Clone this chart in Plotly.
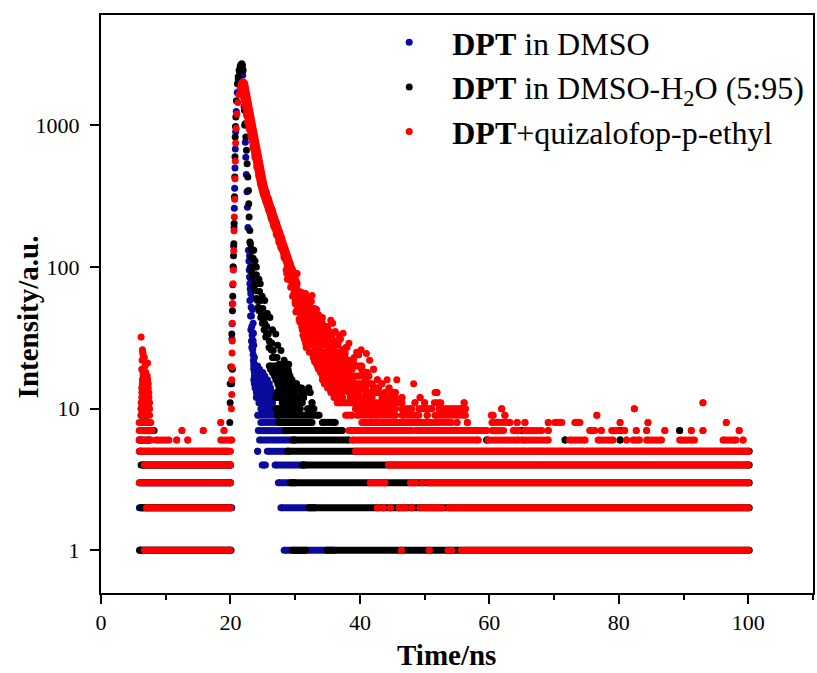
import math
import plotly.graph_objects as go

# ---------------- data ----------------
# Peak / decay points (time in ns, intensity in counts)
blue_t = [20.2, 20.22, 20.25, 20.3, 20.35, 20.42, 20.5, 20.55, 20.6, 20.65, 20.7, 20.75, 20.8, 20.9, 21.05, 21.2, 21.4, 21.6, 21.72,
          21.8, 21.9, 22.0, 22.1, 22.2, 22.3, 22.37, 22.45, 22.55, 22.62, 22.7, 22.78, 22.85, 22.9, 22.95, 23.0, 23.05, 23.14,
          23.2, 23.25, 23.3, 23.35, 23.4, 23.45, 23.5, 23.55, 23.6,
          22.95, 23.05, 23.2, 23.3, 23.4, 23.5, 23.55, 23.6, 23.0, 23.1, 23.15, 23.25, 23.3, 23.5, 23.7]
blue_i = [15, 31, 39.7, 55, 75, 100, 140, 190, 260, 360, 500, 680, 900, 1250, 1700, 2100, 2400, 2580, 2620,
          2550, 2250, 1800, 1350, 1000, 760, 594, 450, 340, 264, 190, 131, 110, 95, 85, 76, 70, 65,
          52, 45, 38, 33, 29, 26, 24, 22, 21,
          120, 100, 80, 60, 50, 40, 34, 28, 58, 45, 36, 30, 27, 30, 23]

black_t = [19.9, 19.95, 19.96, 20.06, 20.21, 20.31, 20.36, 20.42, 20.47, 20.52, 20.57, 20.62, 20.67, 20.7, 20.73, 20.78, 20.83,
           20.93, 21.08, 21.2, 21.34, 21.5, 21.62, 21.75,
           21.85, 21.96, 22.06, 22.11, 22.16, 22.27, 22.37, 22.47, 22.57, 22.68, 22.78, 22.83, 22.88, 22.99, 23.09, 23.19,
           23.29, 23.5, 23.7, 23.91, 24.17, 24.42, 24.68, 24.94, 25.19, 25.45, 25.96, 26.48, 27.25, 28.02,
           23.6, 24.0, 24.6, 25.3, 26.1, 27.0, 27.8, 29.0,
           23.4, 23.65, 24.05, 24.65, 25.2, 25.85, 26.6, 27.5,
           23.5, 24.0, 24.5, 25.0, 25.6, 26.4, 27.2, 23.2, 23.0, 23.8, 24.4, 24.9, 25.7, 26.5, 27.3, 28.3,
           23.3, 23.6, 24.0, 24.3, 24.8, 25.3, 25.6, 26.0, 26.3, 26.8,
           6.5, 6.8, 7.0, 6.3, 20.3]
black_i = [8, 11, 15, 19.7, 33.7, 49, 62, 100, 120, 146, 203, 313, 431, 600, 826, 980, 1143,
           1490, 1965, 2200, 2440, 2600, 2680, 2720,
           2650, 2440, 1965, 1583, 1275, 1026, 826, 665, 536, 431, 347, 279, 225, 181, 146, 117,
           100, 85, 76, 68, 58, 49, 44, 40, 36, 32, 27, 23, 19.7, 16.7,
           131, 100, 76, 58, 44, 33.7, 25.7, 20.6,
           131, 100, 76, 58, 44, 33.7, 25.7, 20.6,
           115, 88, 67, 51, 38, 29, 23, 135, 150, 110, 82, 62, 47, 36, 28, 22,
           92, 72, 60, 52, 46, 40, 34, 30, 26, 23,
           16, 13, 12, 11, 19]

# red: rising edge, pre-pulse spike and the scattered tail cloud
red_t = [20.15, 20.2, 20.2, 20.22, 20.25, 20.28, 20.3, 20.35, 20.4, 20.45, 20.5, 20.55, 20.6, 20.65, 20.7, 20.75, 20.8, 20.9,
         21.0, 21.15, 21.3, 21.5, 21.7,
         6.2, 6.4, 6.45, 6.5, 7.2, 6.3, 6.9, 7.0, 6.6, 7.2, 6.4, 7.3, 6.5, 7.0, 6.8, 6.35, 7.15, 6.7,
         26.0, 26.8, 27.6, 28.4, 29.2, 24.5, 25.5, 23.2, 23.9, 24.9, 25.9, 26.5, 27.1, 27.9,
         28.6, 29.1, 29.6,
         28.7, 29.2, 29.8, 30.3,
         28.8, 29.3, 29.8, 30.3, 29.0, 29.6,
         29.3, 29.9, 30.5, 31.0, 30.2,
         29.8, 30.4, 31.0, 31.6,
         29.6, 30.2, 30.8, 31.4, 32.0, 32.6, 31.1,
         30.0, 30.5, 31.0, 31.5, 32.0, 32.5,
         30.0, 30.6, 31.2, 31.8, 32.4, 33.0,
         30.3, 30.8, 31.3, 31.8, 32.3, 32.8, 33.3,
         30.1, 30.8, 31.5, 32.2, 32.9, 33.6, 34.2,
         30.6, 31.1, 31.6, 32.1, 32.6, 33.1, 33.6, 34.1,
         30.7, 31.4, 32.1, 32.8, 33.5, 34.2, 34.9, 35.5,
         31.0, 31.5, 32.0, 32.5, 33.0, 33.5, 34.0, 34.5, 35.0,
         31.1, 31.8, 32.5, 33.2, 33.9, 34.6, 35.3, 36.2,
         31.2, 31.7, 32.2, 32.7, 33.2, 33.7, 34.2, 34.7, 35.2, 35.7,
         31.4, 32.1, 32.8, 33.5, 34.2, 34.9, 35.6, 36.3, 37.0,
         31.6, 32.1, 32.6, 33.1, 33.6, 34.1, 34.6, 35.1, 35.6, 36.1, 36.6,
         31.7, 32.4, 33.1, 33.8, 34.5, 35.2, 35.9, 36.6, 37.3, 38.0, 38.3,
         32.2, 32.7, 33.2, 33.7, 34.2, 34.7, 35.2, 35.7, 36.2, 36.7, 37.2, 37.7,
         32.8, 33.5, 34.2, 34.9, 35.6, 36.3, 37.0, 37.7, 38.4, 39.1, 39.8,
         33.0, 33.6, 34.2, 34.8, 35.4, 36.0, 36.6, 37.2, 37.8, 38.4, 39.0,
         40.2, 41.5, 36.7, 39.5, 37.4, 35.8, 36.8, 33.5, 41.0, 40.4, 37.8, 39.8, 44.2, 45.7, 48.3, 51.6]
red_i = [10, 12.6, 16, 19.7, 24.7, 30, 40, 55, 76, 95, 130, 180, 225, 300, 420, 560, 750, 950,
         1200, 1450, 1650, 1820, 1930,
         32, 26, 25, 24, 21, 19, 18, 17, 16, 15, 14.5, 14, 13.5, 13, 20, 22, 17, 23,
         270, 220, 175, 135, 105, 480, 340, 960, 700, 400, 300, 250, 205, 160,
         95, 95, 95,
         90, 90, 90, 90,
         82, 80, 78, 76, 88, 84,
         72, 70, 68, 66, 74,
         65, 65, 65, 65,
         62, 61, 60, 59, 61, 63, 64,
         57, 57, 57, 57, 57, 57,
         55, 54, 53, 55, 52, 51,
         50, 50, 50, 50, 50, 50, 50,
         48, 47, 46, 47, 45, 46, 44,
         43, 43, 43, 43, 43, 43, 43, 43,
         41, 40, 40, 39, 41, 40, 38, 42,
         38, 38, 38, 38, 38, 38, 38, 38, 38,
         36, 35, 36, 35, 34, 36, 35, 35,
         33, 33, 33, 33, 33, 33, 33, 33, 33, 33,
         31, 32, 30, 31, 30, 31, 32, 30, 31,
         29, 29, 29, 29, 29, 29, 29, 29, 29, 29, 29,
         27, 28, 26, 27, 28, 26, 27, 28, 26, 27, 29,
         25, 25, 25, 25, 25, 25, 25, 25, 25, 25, 25, 25,
         23, 24, 22, 23, 24, 22, 23, 24, 22, 23, 24,
         21.5, 21.5, 21.5, 21.5, 21.5, 21.5, 21.5, 21.5, 21.5, 21.5, 21.5,
         26, 22, 30, 25, 34, 40, 33, 45, 24.5, 18.5, 27, 24, 16, 16, 15, 13]

# red main decay (dense thick trail just after the peak)
red_decay_t = [21.95, 22.1, 22.3, 22.5, 22.7, 22.9, 23.1, 23.4, 23.7, 24.0, 24.3, 24.6, 24.9, 25.3, 25.7, 26.1, 26.5,
               26.9, 27.3, 27.7, 28.0, 28.5, 29.0, 29.5, 30.0]
red_decay_i = [1970, 1800, 1550, 1350, 1180, 1050, 950, 830, 700, 600, 510, 440, 385, 330, 290, 255, 222,
               195, 170, 150, 138, 117, 100, 87, 77]

# Low-count background: runs of channels sitting on one count level (level, start ns, end ns)
blue_band_level = [1, 2, 3, 4, 5, 6,
                   1, 2, 3, 4, 4, 5, 5, 6, 7, 8, 9, 10, 11, 12, 13, 14, 15, 16, 17, 18, 19, 20]
blue_band_start = [6.0, 5.93, 6.5, 6.5, 6.0, 5.93,
                   28.3, 27.8, 27.4, 24.9, 26.9, 24.2, 25.7, 24.5, 24.3, 24.7, 24.2, 24.7, 24.4, 24.0, 24.0, 23.8, 23.7,
                   23.6, 23.7, 23.7, 23.6, 23.6]
blue_band_end = [20.1, 20.2, 20.0, 20.0, 6.0, 5.93,
                 36.0, 33.0, 30.0, 25.4, 31.5, 24.2, 29.0, 30.0, 29.0, 27.8, 27.3, 26.8, 26.5, 26.6, 26.5, 26.2, 26.0,
                 25.7, 25.3, 25.0, 24.5, 24.2]

black_band_level = [1, 2, 3, 4, 5, 6, 7, 8, 9, 10, 11,
                    1, 1, 2, 3, 4, 5, 6, 6, 6, 6, 7, 7, 7, 7, 8, 8, 9, 10, 10, 11, 11, 12, 12, 13, 13, 13,
                    14, 14, 14, 15, 15, 16, 17, 18, 19, 20]
black_band_start = [5.96, 6.2, 6.0, 6.2, 6.2, 6.2, 6.2, 6.3, 6.2, 6.2, 6.5,
                    29.6, 34.9, 32.1, 29.3, 31.1, 28.8, 29.6, 59.6, 71.7, 80.2, 28.5, 65.0, 80.2, 89.4, 27.5, 34.2,
                    27.25, 27.0, 31.9, 28.0, 32.6, 27.0, 31.3, 27.2, 31.0, 32.3,
                    27.5, 30.5, 32.1, 27.3, 30.2, 27.0, 26.8, 26.5, 26.2, 26.0]
black_band_end = [20.0, 20.0, 20.0, 20.0, 19.5, 7.5, 8.2, 7.5, 7.0, 7.2, 6.9,
                  31.6, 100.15, 100.15, 100.15, 100.15, 100.15, 38.3, 59.6, 71.7, 80.2, 37.3, 65.0, 80.2, 89.4, 32.6, 36.2,
                  33.7, 30.8, 32.9, 31.1, 32.6, 30.5, 31.3, 30.0, 31.5, 32.3,
                  29.8, 31.0, 32.1, 29.4, 30.2, 29.5, 29.2, 29.0, 28.9, 28.7]

red_band_level = [1, 2, 3, 4, 5, 5, 5, 5, 6, 6, 6, 6, 6, 7, 7, 7, 7, 8, 8, 9, 10, 11, 12, 13, 14, 15, 16, 17, 18,
                  1, 1, 1, 1, 1,
                  2, 2, 2, 2, 2, 2, 2, 2,
                  3, 3, 3, 3,
                  4,
                  5, 5, 5, 5,
                  6, 6, 6, 6, 6, 6, 6, 6, 6, 6, 6,
                  7, 7, 7, 7, 7, 7, 7, 7, 7, 7, 7, 7, 7, 7, 7, 7,
                  8, 8, 8, 8, 8, 8, 8, 8, 8, 8, 8, 8, 8,
                  9, 9, 9, 9, 9, 9, 9, 9, 9,
                  10, 10, 10, 10, 10, 10, 10,
                  11, 11, 11, 11, 11, 11, 11,
                  12, 12, 12, 12, 12, 12, 12,
                  13, 13, 13, 13, 13, 13,
                  14, 14, 14,
                  15, 15, 15,
                  16, 16, 16,
                  17, 17,
                  18, 18,
                  19, 19, 19,
                  20, 21, 22, 23]
red_band_start = [6.7, 7.0, 5.9, 6.7, 5.9, 8.0, 11.5, 17.5, 5.9, 8.5, 11.7, 13.4, 18.5, 5.9, 12.5, 15.8, 19.0, 5.9, 18.5,
                  6.2, 6.2, 6.2, 6.3, 6.3, 6.3, 6.4, 6.4, 6.5, 6.5,
                  46.4, 50.7, 53.6, 55.7, 56.4,
                  42.7, 43.6, 44.7, 46.0, 48.0, 49.3, 50.1, 53.7,
                  41.6, 47.8, 49.6, 50.6,
                  44.4,
                  39.3, 66.0, 75.0, 85.2,
                  38.8, 59.8, 65.0, 72.4, 76.8, 81.2, 82.2, 84.3, 89.4, 96.1, 99.2,
                  38.3, 48.6, 60.4, 63.7, 65.5, 69.1, 75.5, 77.3, 78.9, 80.9, 82.7, 84.3, 87.1, 91.2, 93.0, 98.6,
                  40.3, 51.6, 55.0, 56.6, 60.4, 64.3, 65.5, 69.1, 70.1, 73.2, 80.2, 84.5, 96.6,
                  37.8, 39.6, 42.4, 46.5, 50.4, 51.6, 60.3, 62.4, 76.6,
                  39.3, 46.5, 49.1, 52.2, 56.3, 61.9, 82.4,
                  36.5, 42.0, 48.5, 50.0, 51.5, 56.1, 93.0,
                  36.0, 37.3, 38.5, 40.3, 43.4, 46.5, 49.3,
                  35.5, 38.3, 40.9, 43.9, 45.0, 51.9,
                  35.0, 42.1, 44.5,
                  34.5, 39.3, 43.4,
                  34.2, 40.9, 42.7,
                  34.2, 37.5,
                  33.9, 41.1,
                  33.6, 40.3, 42.1,
                  33.4, 33.2, 33.0, 32.8]
red_band_end = [19.9, 20.0, 20.0, 20.0, 7.5, 11.0, 17.0, 20.0, 7.7, 10.5, 11.7, 13.4, 20.2, 7.9, 12.5, 15.8, 19.0, 7.7, 18.5,
                7.5, 7.5, 7.5, 7.4, 7.4, 7.2, 7.3, 7.2, 7.0, 6.9,
                46.4, 50.7, 54.2, 55.7, 100.0,
                42.7, 43.6, 44.7, 47.0, 48.0, 49.3, 52.7, 100.0,
                43.9, 48.6, 49.6, 100.0,
                100.0,
                65.5, 74.5, 84.8, 100.0,
                58.3, 64.5, 69.1, 74.8, 79.1, 81.2, 83.2, 86.6, 91.7, 98.1, 99.2,
                48.0, 59.6, 62.2, 64.5, 68.1, 69.1, 76.3, 77.3, 79.9, 80.9, 82.7, 84.3, 87.1, 91.2, 93.0, 98.6,
                51.1, 54.2, 55.0, 56.6, 63.2, 64.3, 65.5, 69.1, 71.2, 74.0, 80.2, 84.5, 96.6,
                38.8, 41.9, 45.5, 49.1, 50.4, 56.3, 60.6, 62.4, 76.6,
                45.5, 48.0, 51.1, 55.8, 56.3, 61.9, 82.4,
                41.5, 46.5, 48.5, 50.0, 52.5, 56.1, 93.0,
                36.8, 37.3, 39.6, 41.9, 45.5, 46.5, 49.3,
                37.3, 39.8, 42.9, 43.9, 45.5, 51.9,
                40.9, 42.9, 44.5,
                38.8, 41.9, 43.4,
                38.8, 40.9, 42.7,
                36.8, 41.4,
                38.3, 41.1,
                38.8, 40.3, 42.1,
                40.3, 38.5, 38.0, 37.5]

series_names = ["<b>DPT</b> in DMSO",
                "<b>DPT</b> in DMSO-H<sub>2</sub>O (5:95)",
                "<b>DPT</b>+quizalofop-p-ethyl"]
series_colors = ["#0a0a9c", "#000000", "#ff0000"]

x_tick_vals = [0, 20, 40, 60, 80, 100]
y_tick_vals = [1, 10, 100, 1000]
y_tick_text = ["1", "10", "100", "1000"]

# ---------------- figure ----------------
MS = 7
FONT = "Liberation Serif, Times New Roman, serif"


def band_xy(levels, starts, ends):
    xs, ys = [], []
    for lv, a, b in zip(levels, starts, ends):
        xs += [a, b, None]
        ys += [lv, lv, None]
    return xs, ys


fig = go.Figure()

groups = [
    (blue_band_level, blue_band_start, blue_band_end, blue_t, blue_i),
    (black_band_level, black_band_start, black_band_end, black_t, black_i),
    (red_band_level, red_band_start, red_band_end, red_t, red_i),
]

for k, (lv, st, en, pt, pi) in enumerate(groups):
    col = series_colors[k]
    bx, by = band_xy(lv, st, en)
    fig.add_trace(go.Scatter(x=bx, y=by, mode="lines+markers",
                             line=dict(color=col, width=MS),
                             marker=dict(color=col, size=MS, line=dict(width=0)),
                             showlegend=False, legendgroup=str(k), hoverinfo="skip"))
    if k == 2:
        fig.add_trace(go.Scatter(x=red_decay_t, y=red_decay_i, mode="lines+markers",
                                 line=dict(color=col, width=10),
                                 marker=dict(color=col, size=10, line=dict(width=0)),
                                 showlegend=False, legendgroup=str(k)))
    fig.add_trace(go.Scatter(x=pt, y=pi, mode="markers", name=series_names[k],
                             marker=dict(color=col, size=MS, line=dict(width=0)),
                             legendgroup=str(k)))

axis_common = dict(showline=True, linewidth=2, linecolor="black", mirror=True,
                   showgrid=False, zeroline=False, ticks="outside", ticklen=9, tickwidth=2,
                   tickcolor="black", tickfont=dict(family=FONT, size=22, color="black"))

fig.update_xaxes(range=[0, 110], tickvals=x_tick_vals,
                 minor=dict(tickvals=[10, 30, 50, 70, 90, 110], ticklen=5, tickwidth=2,
                            ticks="outside", tickcolor="black"),
                 **axis_common)
fig.update_yaxes(type="log", range=[math.log10(0.5), math.log10(6000)],
                 tickvals=y_tick_vals, ticktext=y_tick_text, ticklabelstandoff=6, **axis_common)

fig.update_layout(
    width=817, height=673,
    margin=dict(l=101, r=2, t=15, b=80),
    paper_bgcolor="white", plot_bgcolor="white",
    font=dict(family=FONT, color="black"),
    legend=dict(x=0.3725, y=1.0, xanchor="left", yanchor="top",
                font=dict(family=FONT, size=32, color="black"),
                bgcolor="rgba(0,0,0,0)", itemwidth=76, tracegroupgap=0),
    annotations=[
        dict(text="<b>Time/ns</b>", x=0.4846, y=-0.108, xref="paper", yref="paper",
             xanchor="center", yanchor="middle", showarrow=False,
             font=dict(family=FONT, size=29, color="black")),
        dict(text="<b>Intensity/a.u.</b>", x=-0.102, y=0.4775, xref="paper", yref="paper",
             xanchor="center", yanchor="middle", textangle=-90, showarrow=False,
             font=dict(family=FONT, size=29, color="black")),
    ],
)

fig.write_html("out.html")
